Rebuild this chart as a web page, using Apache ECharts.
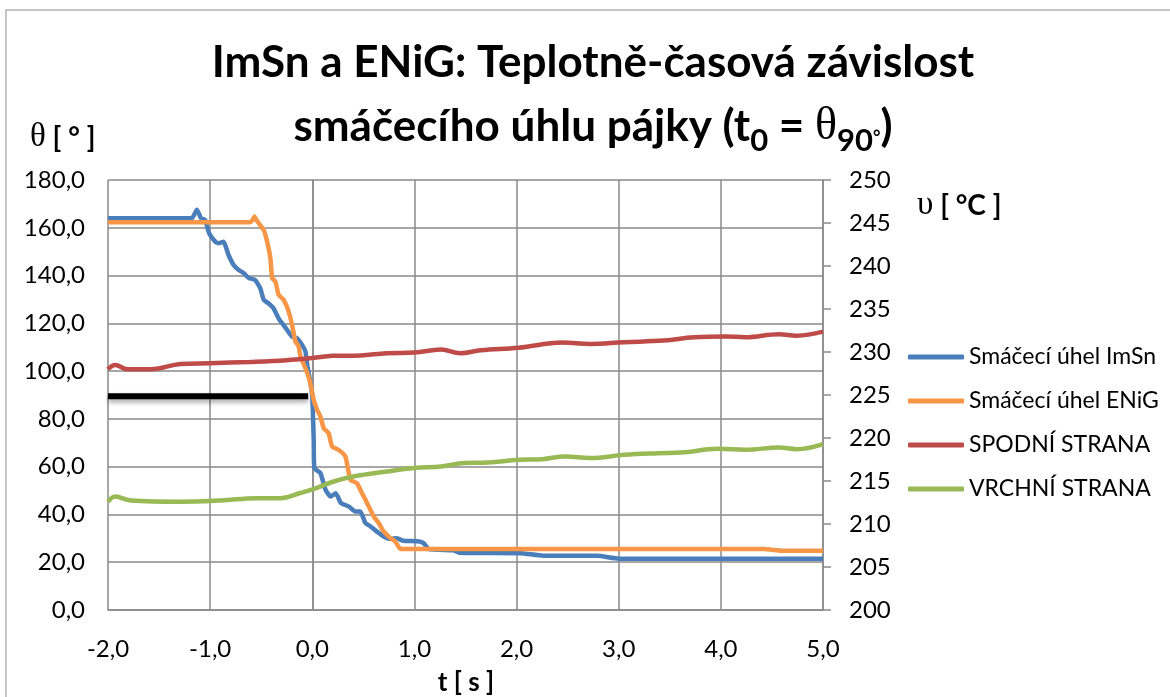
<!DOCTYPE html>
<html>
<head>
<meta charset="utf-8">
<script src="https://cdn.jsdelivr.net/npm/echarts@6/dist/echarts.min.js"></script>
<style>
html,body{margin:0;padding:0;background:#fff;}
#chart{width:1170px;height:697px;}
</style>
</head>
<body>
<div id="chart"></div>
<script>
// ---- data ----
const seriesNames = ['Smáčecí úhel ImSn', 'Smáčecí úhel ENiG', 'SPODNÍ STRANA', 'VRCHNÍ STRANA'];

// wetting angle [°] vs time [s] (left axis)
const angleImSn = [[-2,164],[-1.5,164],[-1.18,164],[-1.15,166],[-1.13,167.5],[-1.11,166],[-1.09,164],[-1.05,163.3],[-1.01,157.7],[-0.95,154.2],[-0.92,153.5],[-0.87,154.2],[-0.82,148.6],[-0.77,144.4],[-0.72,142.3],[-0.67,141],[-0.62,138.9],[-0.56,138.2],[-0.51,134.7],[-0.475,129.8],[-0.43,128.4],[-0.38,126.3],[-0.33,122.1],[-0.26,118],[-0.2,114.5],[-0.15,113.8],[-0.1,111],[-0.067,108.2],[-0.05,102.6],[-0.02,95.6],[0,89.4],[0.014,71.2],[0.02,59.4],[0.08,57.3],[0.13,50.3],[0.18,47.5],[0.23,48.9],[0.28,44.8],[0.36,43.3],[0.42,41.2],[0.47,41.2],[0.52,36.4],[0.57,35],[0.63,32.9],[0.7,30.8],[0.76,29.8],[0.83,30],[0.89,29],[1.03,28.8],[1.09,28],[1.14,25.5],[1.38,25],[1.44,24],[2.04,23.8],[2.26,22.7],[2.79,22.7],[3.0,21.5],[5,21.5]];
const angleENiG = [[-2,162.3],[-0.61,162.3],[-0.58,163.5],[-0.566,164.7],[-0.55,163.5],[-0.524,161.9],[-0.475,159],[-0.442,154.2],[-0.41,147.2],[-0.393,138.9],[-0.361,137.5],[-0.329,131.9],[-0.28,129.8],[-0.231,124.9],[-0.198,119.3],[-0.165,112.4],[-0.133,110.3],[-0.116,106.1],[-0.067,101.2],[-0.025,96],[0.014,88],[0.047,83.8],[0.079,81],[0.112,76.1],[0.16,74],[0.194,68.4],[0.259,67],[0.324,64.3],[0.373,54.5],[0.438,53.1],[0.487,48.9],[0.536,44.8],[0.601,39.2],[0.65,36.4],[0.699,32.9],[0.764,30.1],[0.813,28.7],[0.865,25.5],[4.42,25.5],[4.61,24.8],[5,24.8]];

// temperature [°C] vs time [s] (right axis)
const tempBottom = [[-2,228.0],[-1.93,228.5],[-1.81,228.0],[-1.58,228.0],[-1.29,228.6],[-1.0,228.7],[-0.61,228.85],[-0.25,229.05],[0,229.3],[0.2,229.55],[0.47,229.6],[0.73,229.86],[1.0,229.93],[1.26,230.3],[1.45,229.86],[1.65,230.2],[2.02,230.5],[2.45,231.1],[2.72,230.94],[3.05,231.14],[3.44,231.33],[3.74,231.72],[4.04,231.8],[4.24,231.72],[4.57,232.07],[4.74,231.9],[5,232.37]];
const tempTop = [[-2,212.6],[-1.93,213.2],[-1.78,212.74],[-1.29,212.6],[-0.9,212.74],[-0.54,213.0],[-0.31,213.0],[-0.12,213.6],[0.01,214.06],[0.21,214.94],[0.4,215.52],[0.73,216.1],[1.0,216.5],[1.26,216.69],[1.49,217.08],[1.72,217.15],[2.02,217.46],[2.25,217.54],[2.48,217.85],[2.72,217.66],[3.05,218.05],[3.38,218.24],[3.61,218.31],[3.97,218.74],[4.24,218.63],[4.57,218.9],[4.74,218.7],[5,219.29]];

// 90° reference line
const refLine90 = [[-2,89.5],[-0.04,89.5]];

// axis ranges / ticks
const xMin = -2, xMax = 5, xStep = 1;
const angleMin = 0, angleMax = 180, angleStep = 20;
const tempMin = 200, tempMax = 250, tempStep = 5;

const colors = ['#4a7ebb', '#f79646', '#be4b48', '#98b954'];
const FONT = 'Lato';
const gridColor = '#8a8a8a';

const chart = echarts.init(document.getElementById('chart'), null, {renderer: 'canvas'});
const comma1 = v => v.toFixed(1).replace('.', ',');

const option = {
  animation: false,
  backgroundColor: '#ffffff',
  title: {
    text: '{a|ImSn a ENiG: Teplotně-časová závislost}\n{a|smáčecího úhlu pájky (t}{s|0}{a| = }{th|θ}{s|90}{d|°}{a|)}',
    left: 588, top: 26, textAlign: 'center',
    textStyle: {
      rich: {
        a: {fontFamily: FONT, fontWeight: 'bold', fontSize: 44, lineHeight: 64, color: '#000'},
        s: {fontFamily: FONT, fontWeight: 'bold', fontSize: 31, lineHeight: 31, padding: [27,0,0,0], color: '#000'},
        d: {fontFamily: FONT, fontWeight: 'bold', fontSize: 18, lineHeight: 18, padding: [22,0,0,0], color: '#000'},
        th: {fontFamily: 'Liberation Serif', fontWeight: 'normal', fontSize: 46, lineHeight: 64, color: '#000'}
      }
    }
  },
  legend: {
    orient: 'vertical',
    left: 903, top: 340,
    itemWidth: 56, itemHeight: 5, itemGap: 20,
    icon: 'roundRect',
    data: seriesNames,
    textStyle: {fontFamily: FONT, fontSize: 23, lineHeight: 24, color: '#000'}
  },
  grid: {left: 108, right: 347, top: 180, height: 430, containLabel: false},
  xAxis: {
    type: 'value', min: xMin, max: xMax, interval: xStep,
    axisLine: {show: true, lineStyle: {color: gridColor, width: 1.5}},
    axisTick: {show: false},
    splitLine: {show: true, lineStyle: {color: gridColor, width: 1.5}},
    axisLabel: {fontFamily: FONT, fontSize: 24, color: '#000', margin: 27, formatter: comma1}
  },
  yAxis: [{
    type: 'value', min: angleMin, max: angleMax, interval: angleStep,
    axisLine: {show: true, lineStyle: {color: gridColor, width: 1.5}},
    axisTick: {show: false},
    splitLine: {show: true, lineStyle: {color: gridColor, width: 1.5}},
    axisLabel: {fontFamily: FONT, fontSize: 24, color: '#000', margin: 23, formatter: comma1}
  }, {
    type: 'value', min: tempMin, max: tempMax, interval: tempStep, position: 'right',
    axisLine: {show: true, lineStyle: {color: gridColor, width: 1.5}},
    axisTick: {show: true, length: 8, lineStyle: {color: gridColor, width: 1.5}},
    splitLine: {show: false},
    axisLabel: {fontFamily: FONT, fontSize: 24, color: '#000', margin: 26}
  }],
  graphic: [
    {type: 'rect', silent: true, z: -1, shape: {x: 6, y: 10, width: 1300, height: 900},
     style: {fill: 'none', stroke: '#b3b3b3', lineWidth: 1.5}},
    {type: 'text', left: 30, top: 121, silent: true,
     style: {text: '{th|θ}{b| [ ° ]}', rich: {
       th: {fontFamily: 'Liberation Serif', fontSize: 33, fill: '#000', lineHeight: 36},
       b: {fontFamily: FONT, fontWeight: 'bold', fontSize: 28, fill: '#000', lineHeight: 36}}}},
    {type: 'text', left: 917, top: 189, silent: true,
     style: {text: '{th|υ}{b| [ °C ]}', rich: {
       th: {fontFamily: 'Liberation Serif', fontSize: 33, fill: '#000', lineHeight: 36},
       b: {fontFamily: FONT, fontWeight: 'bold', fontSize: 28, fill: '#000', lineHeight: 36}}}},
    {type: 'text', x: 466, y: 683, silent: true,
     style: {text: 't [ s ]', font: 'bold 26px Lato', fill: '#000', align: 'center', verticalAlign: 'middle'}}
  ],
  series: [
    {name: seriesNames[0], type: 'line', yAxisIndex: 0, data: angleImSn, showSymbol: false, smooth: 0.15,
     lineStyle: {color: colors[0], width: 4.5}, itemStyle: {color: colors[0]}},
    {name: seriesNames[1], type: 'line', yAxisIndex: 0, data: angleENiG, showSymbol: false, smooth: 0.15,
     lineStyle: {color: colors[1], width: 4.5}, itemStyle: {color: colors[1]}},
    {name: seriesNames[2], type: 'line', yAxisIndex: 1, data: tempBottom, showSymbol: false, smooth: 0.4,
     lineStyle: {color: colors[2], width: 4.5}, itemStyle: {color: colors[2]}},
    {name: seriesNames[3], type: 'line', yAxisIndex: 1, data: tempTop, showSymbol: false, smooth: 0.4,
     lineStyle: {color: colors[3], width: 4.5}, itemStyle: {color: colors[3]}},
    {name: 'θ90', type: 'line', yAxisIndex: 0, data: refLine90, showSymbol: false, z: 1,
     lineStyle: {color: '#000', width: 6, shadowColor: 'rgba(0,0,0,0.35)', shadowBlur: 5, shadowOffsetY: 3},
     itemStyle: {color: '#000'}}
  ]
};
chart.setOption(option);
</script>
</body>
</html>
